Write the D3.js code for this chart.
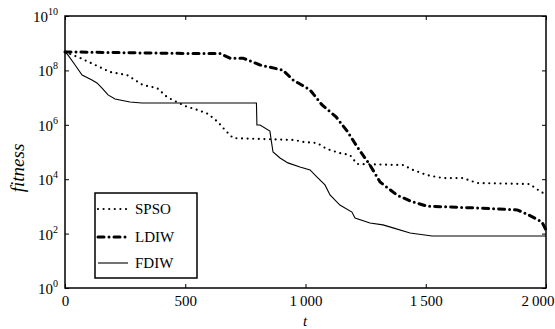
<!DOCTYPE html>
<html><head><meta charset="utf-8">
<script src="https://cdn.jsdelivr.net/npm/d3@7"></script>
<style>body{margin:0;background:#fff}svg{display:block}</style>
</head><body>
<script>
// Data: t (iterations) and log10(fitness)
const spsoT   = [0,62,116,187,258,324,383,424,499,553,595,636,665,699,956,990,1048,1089,1143,1185,1214,1405,1447,1505,1572,1655,1713,1934,1954,1988,2000];
const spsoLog = [8.68,8.46,8.24,7.94,7.83,7.46,7.35,7.02,6.69,6.54,6.40,6.10,5.81,5.51,5.44,5.37,5.33,5.11,4.96,4.89,4.56,4.52,4.34,4.15,4.04,4.04,3.86,3.82,3.68,3.49,3.46];
const ldiwT   = [0,520,645,686,740,811,906,948,1019,1069,1127,1173,1218,1268,1310,1380,1435,1505,1713,1880,1921,1983,2000];
const ldiwLog = [8.68,8.62,8.62,8.45,8.45,8.20,8.01,7.65,7.28,6.73,6.29,5.77,5.15,4.52,3.90,3.42,3.20,3.01,2.94,2.87,2.72,2.43,2.13];
const fdiwT   = [0,12,42,71,112,133,154,179,208,270,320,796,798,811,852,858,865,894,927,977,1019,1048,1081,1102,1143,1193,1206,1268,1322,1364,1435,1526,2000];
const fdiwLog = [8.68,8.57,8.20,7.83,7.65,7.54,7.35,7.10,6.95,6.84,6.80,6.80,5.99,5.99,5.77,5.40,5.00,4.78,4.60,4.45,4.34,4.08,3.79,3.42,3.05,2.79,2.57,2.39,2.32,2.21,2.02,1.91,1.91];
const seriesNames = ["SPSO","LDIW","FDIW"];
const xTicks = [0,500,1000,1500,2000];
const xTickLabels = ["0","500","1\u2009000","1\u2009500","2\u2009000"];
const yTickExps = [0,2,4,6,8,10];

const W=555,H=329, L=65, R=546, T=16, B=288;
const svg=d3.select("body").append("svg").attr("width",W).attr("height",H)
  .style("font-family","'Liberation Serif','Times New Roman',serif");
const x=d3.scaleLinear().domain([0,2000]).range([L,R]);
const y=d3.scaleLog().domain([1,1e10]).range([B,T]);

const mk=(ts,ls)=>ts.map((t,i)=>({t,v:Math.pow(10,ls[i])}));
const line=d3.line().x(d=>x(d.t)).y(d=>y(d.v));

const g=svg.append("g");
g.append("path").datum(mk(fdiwT,fdiwLog)).attr("d",line)
  .attr("fill","none").attr("stroke","#000").attr("stroke-width",1.1);
g.append("path").datum(mk(spsoT,spsoLog)).attr("d",line)
  .attr("fill","none").attr("stroke","#000").attr("stroke-width",2.2)
  .attr("stroke-linecap","round").attr("stroke-dasharray","0 5.6");
g.append("path").datum(mk(ldiwT,ldiwLog)).attr("d",line)
  .attr("fill","none").attr("stroke","#000").attr("stroke-width",3)
  .attr("stroke-linecap","round").attr("stroke-dasharray","6 5 0 5");

const ax=svg.append("g");
ax.append("g").attr("transform",`translate(0,${B})`)
  .call(d3.axisBottom(x).tickValues(xTicks).tickSize(-4).tickFormat((d,i)=>xTickLabels[i]).tickPadding(7))
  .call(s=>s.select(".domain").remove());
ax.append("g").attr("transform",`translate(0,${T})`)
  .call(d3.axisTop(x).tickValues(xTicks).tickSize(-4).tickFormat(""))
  .call(s=>s.select(".domain").remove());
ax.append("g").attr("transform",`translate(${L},0)`)
  .call(d3.axisLeft(y).tickValues(yTickExps.map(e=>Math.pow(10,e))).tickSize(-4).tickFormat(""))
  .call(s=>s.select(".domain").remove());
ax.append("g").attr("transform",`translate(${R},0)`)
  .call(d3.axisRight(y).tickValues(yTickExps.map(e=>Math.pow(10,e))).tickSize(-4).tickFormat(""))
  .call(s=>s.select(".domain").remove());
ax.selectAll(".tick line").attr("stroke","#000").attr("stroke-width",1);
ax.selectAll("text").attr("font-family","'Liberation Serif',serif").attr("font-size",15).attr("fill","#000");
ax.selectAll("text").filter(function(){return this.textContent===xTickLabels[xTickLabels.length-1];})
  .attr("text-anchor","end").attr("x",8);

yTickExps.forEach(e=>{
  const t=svg.append("text").attr("x",58).attr("y",y(Math.pow(10,e))+6)
    .attr("text-anchor","end").attr("font-size",15);
  t.append("tspan").text("10");
  t.append("tspan").attr("dy",-7).attr("font-size",10).text(e);
});

svg.append("rect").attr("x",L).attr("y",T).attr("width",R-L).attr("height",B-T)
  .attr("fill","none").attr("stroke","#000").attr("stroke-width",1.5);

svg.append("text").attr("x",305).attr("y",326).attr("text-anchor","middle")
  .attr("font-style","italic").attr("font-size",15).text("t");
svg.append("text").attr("transform","translate(24,168) rotate(-90)").attr("text-anchor","middle")
  .attr("font-style","italic").attr("font-size",19).text("fitness");

const lg=svg.append("g");
lg.append("rect").attr("x",95).attr("y",193).attr("width",102).attr("height",85)
  .attr("fill","#fff").attr("stroke","#000").attr("stroke-width",1.5);
const styles=[
  {w:2.2,da:"0 5.6",cap:"round"},
  {w:3,da:"6 5 0 5",cap:"round"},
  {w:1.1,da:null,cap:"butt"}];
const ly=[209,237,263];
seriesNames.forEach((n,i)=>{
  lg.append("line").attr("x1",98).attr("x2",128).attr("y1",ly[i]).attr("y2",ly[i])
    .attr("stroke","#000").attr("stroke-width",styles[i].w)
    .attr("stroke-linecap",styles[i].cap).attr("stroke-dasharray",styles[i].da);
  lg.append("text").attr("x",135).attr("y",ly[i]+5).attr("font-size",15).text(n);
});
</script>
</body></html>
